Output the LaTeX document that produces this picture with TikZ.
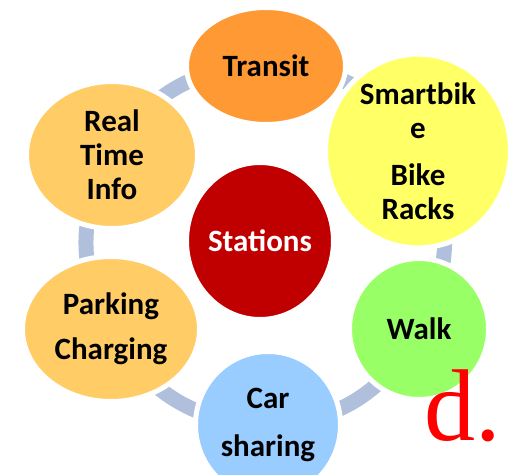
\documentclass[tikz,border=0pt]{standalone}
\usepackage{fontspec}
\setmainfont{Carlito}
\newfontfamily\letterfont{Liberation Serif}
\usetikzlibrary{shapes.geometric}
\pgfdeclarelayer{background}
\pgfsetlayers{background,main}
\definecolor{transitcol}{RGB}{255,153,51}
\definecolor{bikecol}{RGB}{255,255,102}
\definecolor{walkcol}{RGB}{153,255,102}
\definecolor{carcol}{RGB}{153,204,255}
\definecolor{palecol}{RGB}{255,204,102}
\definecolor{stationcol}{RGB}{192,0,0}
\definecolor{linkcol}{RGB}{176,192,220}

\begin{document}
\begin{tikzpicture}[x=1pt,y=-1pt,
    bubble/.style={ellipse,draw=white,line width=5pt,inner sep=0pt,align=center,
        font=\bfseries\fontsize{31}{34}\selectfont},
    link/.style={draw=linkcol,line width=15pt}]
    \clip (0,0) rectangle (513,474);
    \node[bubble,fill=stationcol,text=white,minimum width=145pt,minimum height=157pt] (stations) at (260,241) {Stations};
    \node[bubble,fill=transitcol,minimum width=159pt,minimum height=117pt] (transit) at (266,66) {Transit};
    \node[bubble,fill=bikecol,minimum width=185pt,minimum height=157pt] (smartbike) at (418,151) {Smartbik\\e\\[13pt] Bike\\Racks};
    \node[bubble,fill=walkcol,minimum width=139pt,minimum height=141pt] (walk) at (419,329) {Walk};
    \node[bubble,fill=carcol,minimum width=145pt,minimum height=147pt] (carshare) at (268,425) {Car\\[14pt]sharing};
    \node[bubble,fill=palecol,minimum width=177pt,minimum height=145pt] (parking) at (111,329) {Parking\\[11pt]Charging};
    \node[bubble,fill=palecol,minimum width=171pt,minimum height=147pt] (realtime) at (112,155) {Real\\Time\\Info};
    \begin{pgfonlayer}{background}
    \draw[link] (transit.center) to[bend left=30] (smartbike.center);
    \draw[link] (smartbike.center) to[bend left=30] (walk.center);
    \draw[link] (walk.center) to[bend left=30] (carshare.center);
    \draw[link] (carshare.center) to[bend left=30] (parking.center);
    \draw[link] (parking.center) to[bend left=30] (realtime.center);
    \draw[link] (realtime.center) to[bend left=30] (transit.center);
    \end{pgfonlayer}
    \node[anchor=base west,inner sep=0pt,text=red,font=\letterfont\fontsize{102}{102}\selectfont] (mark) at (424,440) {d.};
\end{tikzpicture}
\end{document}
